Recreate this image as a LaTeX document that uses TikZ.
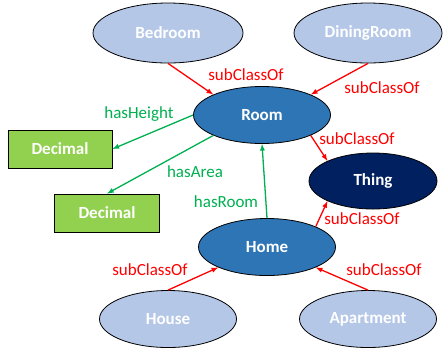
\documentclass[tikz,border=0pt]{standalone}
\usepackage{fontspec}
\setmainfont{Carlito}
\usetikzlibrary{shapes,arrows}
\definecolor{paleblue}{HTML}{B4C7E7}
\definecolor{midblue}{HTML}{2E75B6}
\definecolor{navyblue}{HTML}{002060}
\definecolor{limegreen}{HTML}{92D050}
\definecolor{relgreen}{HTML}{00B050}
\tikzstyle{cls} = [ellipse, draw, line width=0.8pt, inner sep=0pt, text=white, font=\fontsize{17}{20}\selectfont\bfseries, minimum width=137pt, minimum height=57pt]
\tikzstyle{leaf} = [cls, fill=paleblue]
\tikzstyle{mid} = [cls, fill=midblue]
\tikzstyle{dtype} = [rectangle, draw, line width=0.8pt, fill=limegreen, text=white, font=\fontsize{17}{20}\selectfont\bfseries, minimum width=104pt, minimum height=38pt]
\tikzstyle{sub} = [->, >=latex, red, line width=1.3pt]
\tikzstyle{prop} = [->, >=latex, relgreen, line width=1.3pt]
\tikzstyle{sublbl} = [text=red, font=\fontsize{17}{20}\selectfont]
\tikzstyle{proplbl} = [text=relgreen, font=\fontsize{17}{20}\selectfont]

\begin{document}
\begin{tikzpicture}[x=1pt, y=-1pt, node distance=200pt]
   \useasboundingbox (0,0) rectangle (443,349);
   \node[leaf, minimum width=150pt, minimum height=60pt] (bed) at (168,33) {Bedroom};
   \node[leaf, minimum width=148pt, minimum height=60pt] (din) [right of=bed] {DiningRoom};
   \node[mid] (room) at (262,115) {Room};
   \node[cls, fill=navyblue, minimum width=128pt, minimum height=56pt] (thing) at (373,181) {Thing};
   \node[mid] (home) at (267,247) {Home};
   \node[leaf] (house) at (168,319) {House};
   \node[leaf] (apt) [right of=house] {Apartment};
   \node[dtype] (dec1) at (60,149) {Decimal};
   \node[dtype, minimum width=105pt] (dec2) at (107,213) {Decimal};
   % edge labels
   \node[sublbl] (l1) at (246,75) {subClassOf};
   \node[sublbl] (l2) at (382,88) {subClassOf};
   \node[proplbl] (l3) at (139,114) {hasHeight};
   \node[proplbl] (l4) at (195,172) {hasArea};
   \node[sublbl] (l5) at (357,139) {subClassOf};
   \node[proplbl] (l6) at (226,202) {hasRoom};
   \node[sublbl] (l7) at (362,219) {subClassOf};
   \node[sublbl] (l8) at (150,270) {subClassOf};
   \node[sublbl] (l9) at (384,270) {subClassOf};
   \draw[sub] (bed.south) -- (room.north west);
   \draw[sub] (din.south) -- (room.north east);
   \draw[prop] (room.west) -- (dec1.east);
   \draw[prop] (room.south west) -- (dec2.north);
   \draw[sub] (room.south east) -- (thing.north west);
   \draw[prop] (home.north) -- (room.south);
   \draw[sub] (home.north east) -- (thing.south west);
   \draw[sub] (house.north) -- (home.south west);
   \draw[sub] (apt.north) -- (home.south east);
  \end{tikzpicture}
\end{document}
